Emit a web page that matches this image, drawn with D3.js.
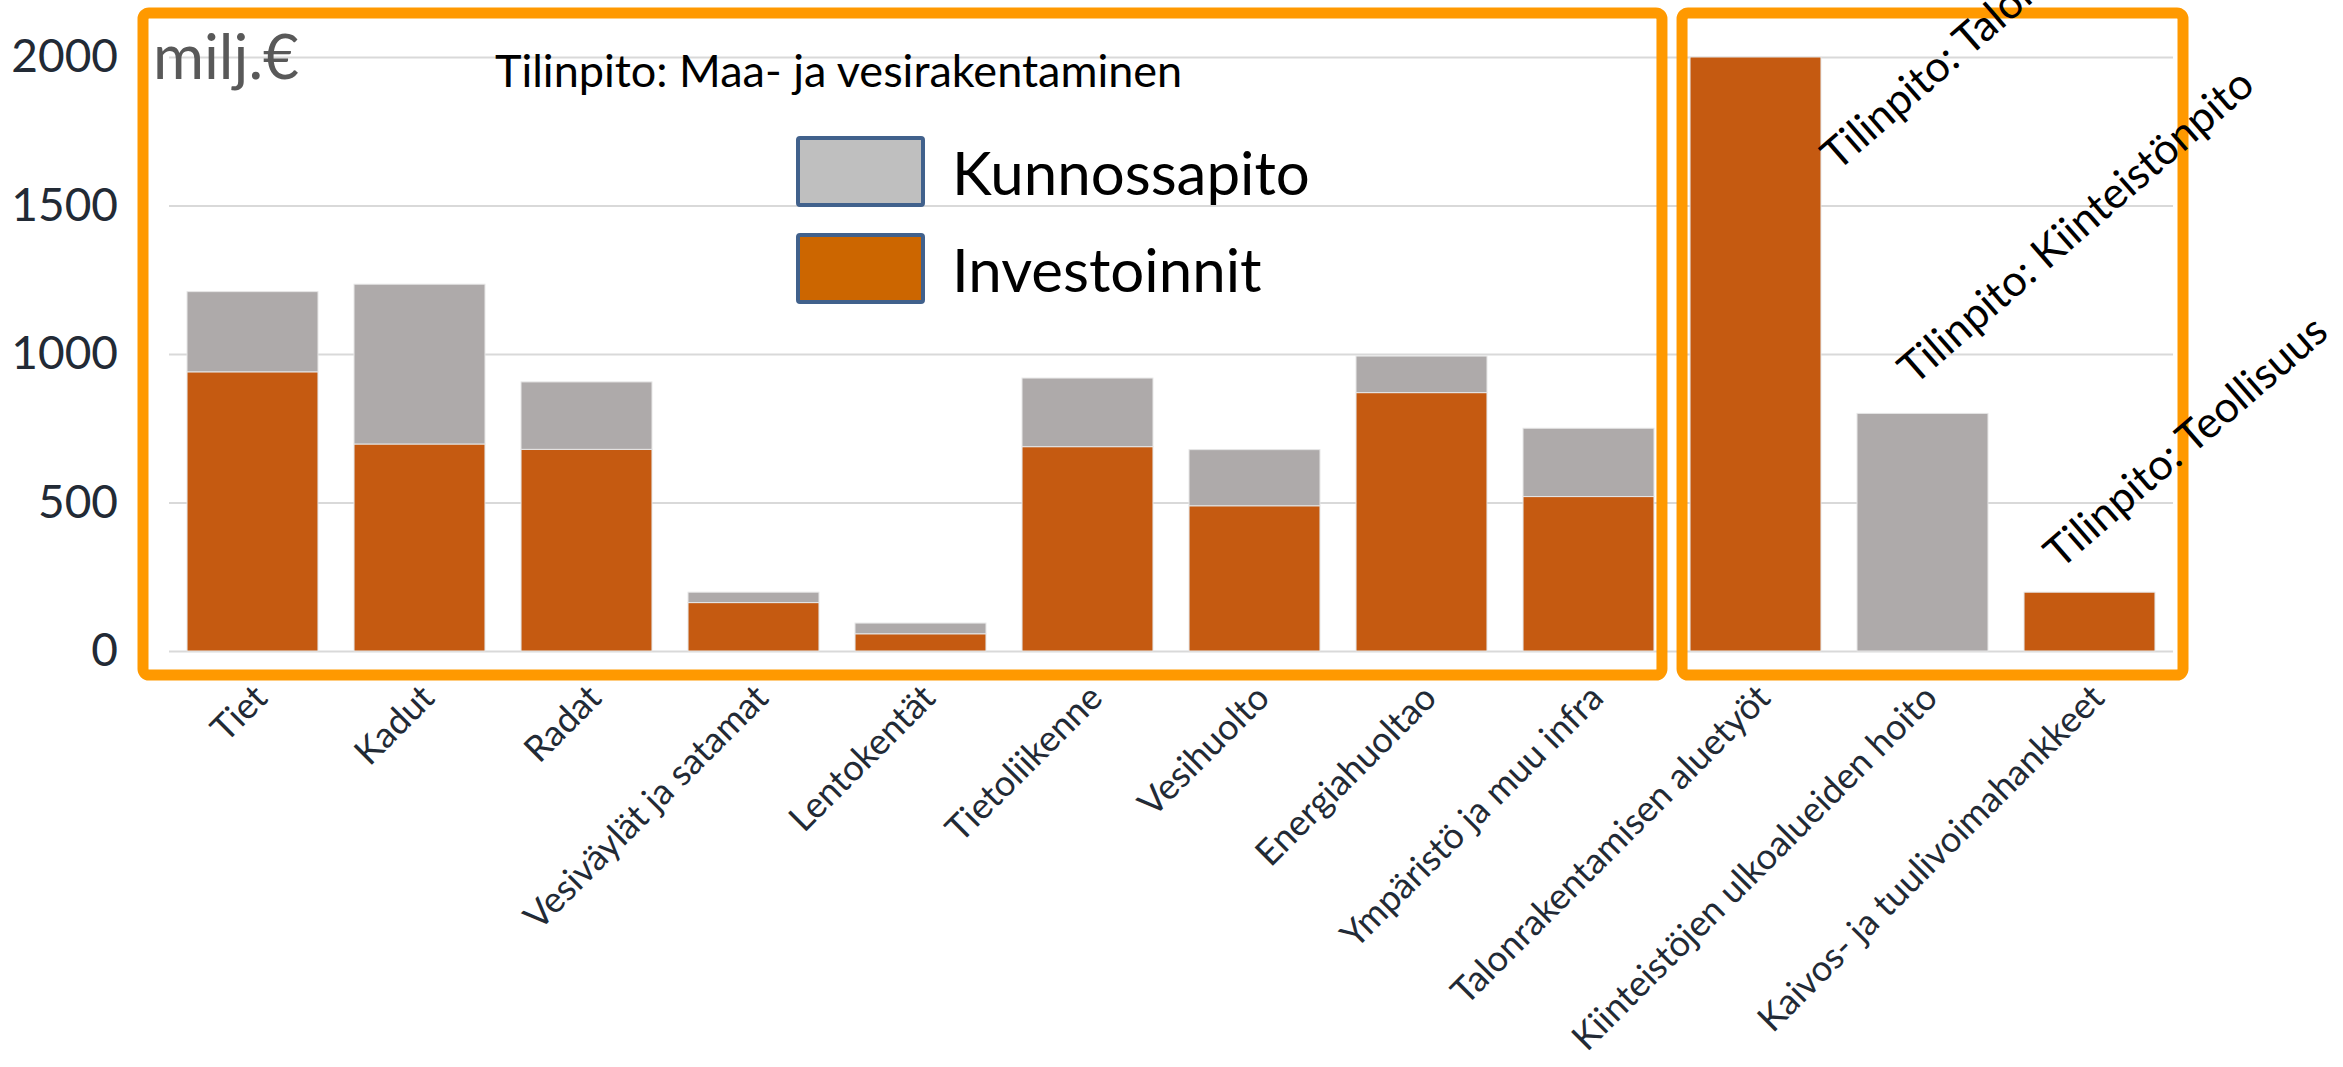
<!DOCTYPE html>
<html>
<head>
<meta charset="utf-8">
<script src="https://cdn.jsdelivr.net/npm/d3@7"></script>
<style>
  body { margin: 0; background: #fff; }
  svg { display: block; font-family: Lato, "Open Sans", sans-serif; }
</style>
</head>
<body>
<svg id="chart" width="2343" height="1067"></svg>
<script>
// values (milj. €)
let categories = ["Tiet", "Kadut", "Radat", "Vesiväylät ja satamat", "Lentokentät",
    "Tietoliikenne", "Vesihuolto", "Energiahuoltao", "Ympäristö ja muu infra",
    "Talonrakentamisen aluetyöt", "Kiinteistöjen ulkoalueiden hoito", "Kaivos- ja tuulivoimahankkeet"]
let investoinnit = [940, 697, 679, 163, 58, 688, 489, 870, 520, 2000, 0, 198]
let kunnossapito = [270, 538, 227, 35, 36, 231, 189, 123, 230, 0, 800, 0]
let seriesNames = ["Kunnossapito", "Investoinnit"]
let yTicks = [0, 500, 1000, 1500, 2000]

let groupTitle = "Tilinpito: Maa- ja vesirakentaminen"
let noteTexts = ["Tilinpito: Talonrakentaminen", "Tilinpito: Kiinteistönpito", "Tilinpito: Teollisuus"]
let noteCategories = ["Talonrakentamisen aluetyöt", "Kiinteistöjen ulkoalueiden hoito", "Kaivos- ja tuulivoimahankkeet"]
let noteValues = [1613, 892, 273]

let colors = {Investoinnit: '#C55A11', Kunnossapito: '#AEAAAA'}
let legendFill = {Investoinnit: '#CC6600', Kunnossapito: '#BFBFBF'}

let svg = d3.select('#chart')

let x = d3.scaleBand()
    .domain(categories)
    .range([169, 2173])
    .paddingInner(0.216)
    .paddingOuter(0.108)

let y = d3.scaleLinear()
    .domain([0, 2000])
    .range([651, 57])

// gridlines + y labels
let yAxis = svg.append('g')
    .attr('transform', 'translate(169,0)')
    .call(d3.axisLeft(y).tickValues(yTicks).tickFormat(d3.format('d'))
        .tickSizeInner(-(2173 - 169)).tickSizeOuter(0).tickPadding(51))
yAxis.select('.domain').remove()
yAxis.selectAll('line').attr('stroke', '#d9d9d9').attr('stroke-width', 2)
yAxis.selectAll('text')
    .attr('fill', '#222a35')
    .style('font-size', '46px')
    .style('font-family', 'Lato')

// stacked bars
let rows = categories.map((c, i) => {
    return {cat: c, Investoinnit: investoinnit[i], Kunnossapito: kunnossapito[i]}
})
let stacked = d3.stack().keys(['Investoinnit', 'Kunnossapito'])(rows)

svg.append('g').selectAll('g')
    .data(stacked)
    .enter()
    .append('g')
    .attr('fill', (s) => colors[s.key])
    .selectAll('rect')
    .data((s) => s)
    .enter()
    .append('rect')
    .attr('x', (d) => x(d.data.cat))
    .attr('width', x.bandwidth())
    .attr('y', (d) => y(d[1]))
    .attr('height', (d) => y(d[0]) - y(d[1]))
    .attr('stroke', '#e6e6e6')
    .attr('stroke-width', (d) => (d[1] - d[0]) > 0 ? 1 : 0)

// x labels
let xAxis = svg.append('g')
    .attr('transform', 'translate(0,' + y(0) + ')')
    .call(d3.axisBottom(x).tickSize(0))
xAxis.select('.domain').remove()
xAxis.selectAll('text')
    .attr('x', 0)
    .attr('y', 0)
    .attr('dy', null)
    .attr('transform', 'translate(17,49) rotate(-45)')
    .style('text-anchor', 'end')
    .style('font-size', '36px')
    .style('font-family', 'Lato')
    .attr('fill', '#222a35')

// orange group frames
let bw = x.bandwidth()
let frames = [
    [x.range()[0] - 26, x(categories[8]) + bw + 8],
    [x(categories[9]) - 8, x.range()[1] + 10]
]
svg.append('g').selectAll('rect')
    .data(frames)
    .enter()
    .append('rect')
    .attr('x', (d) => d[0])
    .attr('y', 13)
    .attr('width', (d) => d[1] - d[0])
    .attr('height', y(0) + 24 - 13)
    .attr('rx', 6)
    .attr('fill', 'none')
    .attr('stroke', '#FF9900')
    .attr('stroke-width', 11)

// unit label
svg.append('text')
    .attr('x', 153)
    .attr('y', 79)
    .text('milj.€')
    .attr('fill', '#595959')
    .style('font-size', '62px')

// group title
svg.append('text')
    .attr('x', 495)
    .attr('y', 87)
    .text(groupTitle)
    .attr('fill', '#000')
    .style('font-size', '45px')

// legend
let legend = svg.append('g')
    .selectAll('g')
    .data(seriesNames)
    .enter()
    .append('g')
    .attr('transform', (d, i) => 'translate(798,' + (138 + i * 97) + ')')
legend.append('rect')
    .attr('width', 125)
    .attr('height', 67)
    .attr('rx', 2)
    .attr('fill', (d) => legendFill[d])
    .attr('stroke', '#41618C')
    .attr('stroke-width', 4)
legend.append('text')
    .attr('x', 154)
    .attr('y', 57)
    .text((d) => d)
    .attr('fill', '#000')
    .style('font-size', '60px')

// rotated notes on the right group
let noteDx = [82, -8, -29]
svg.append('g').selectAll('text')
    .data(noteTexts)
    .enter()
    .append('text')
    .attr('transform', (d, i) => {
        let cx = x(noteCategories[i]) + bw / 2 + noteDx[i]
        return 'translate(' + cx + ',' + y(noteValues[i]) + ') rotate(-41)'
    })
    .text((d) => d)
    .attr('fill', '#000')
    .style('font-size', '43px')
</script>
</body>
</html>
